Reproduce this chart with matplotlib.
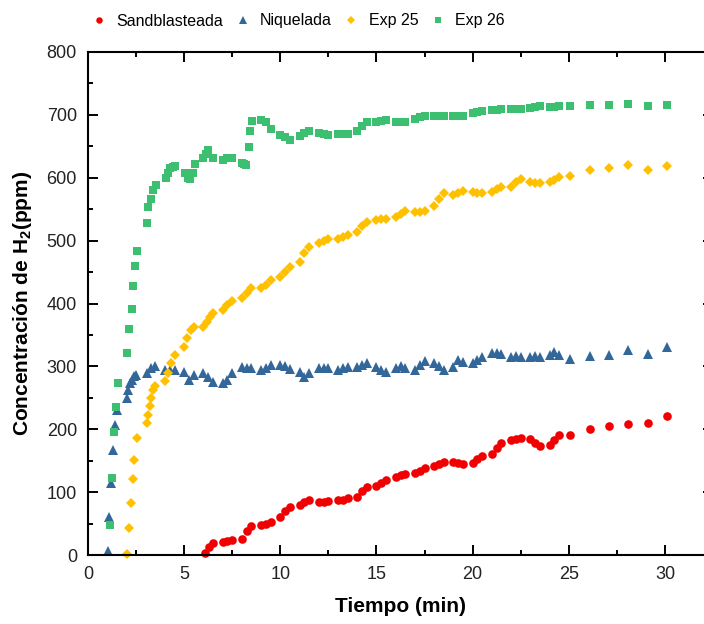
import matplotlib
matplotlib.use("Agg")
import matplotlib.pyplot as plt
from matplotlib.ticker import MultipleLocator
from matplotlib import font_manager

plt.rcParams['font.family'] = ['Liberation Sans', 'DejaVu Sans']
plt.rcParams['mathtext.fontset'] = 'custom'
plt.rcParams['mathtext.rm'] = 'Liberation Sans'
plt.rcParams['mathtext.bf'] = 'Liberation Sans:bold'

# ---------------- data ----------------
sand_x = [6.1, 6.3, 6.5, 7.0, 7.25, 7.5, 8.0, 8.25, 8.5, 9.0, 9.25, 9.5,
          10.0, 10.25, 10.5, 11.0, 11.25, 11.5, 12.0, 12.25, 12.5, 13.0, 13.25, 13.5,
          14.0, 14.25, 14.5, 15.0, 15.25, 15.5, 16.0, 16.25, 16.5, 17.0, 17.25, 17.5,
          18.0, 18.25, 18.5, 19.0, 19.25, 19.5, 20.0, 20.25, 20.5, 21.0, 21.25, 21.5,
          22.0, 22.25, 22.5, 23.0, 23.25, 23.5, 24.0, 24.25, 24.5, 25.05,
          26.1, 27.1, 28.1, 29.1, 30.1]
sand_y = [3, 12, 19, 20, 23, 24, 25, 38, 46, 47, 50, 53,
          60, 70, 76, 79, 84, 88, 85, 85, 86, 87, 88, 90,
          93, 102, 108, 110, 115, 120, 124, 127, 129, 130, 134, 138,
          142, 145, 148, 148, 146, 145, 146, 152, 158, 160, 170, 178,
          183, 185, 186, 184, 178, 173, 175, 183, 191, 191,
          201, 205, 208, 210, 221]

niq_x = [1.02, 1.1, 1.2, 1.32, 1.41, 1.49, 2.01, 2.1, 2.19, 2.3, 2.4, 2.5,
         3.05, 3.25, 3.5, 4.0, 4.25, 4.5, 5.0, 5.25, 5.5, 6.0, 6.25, 6.5,
         7.0, 7.25, 7.5, 8.0, 8.25, 8.5, 9.0, 9.25, 9.5, 10.0, 10.25, 10.5,
         11.0, 11.25, 11.5, 12.0, 12.25, 12.5, 13.0, 13.25, 13.5, 14.0, 14.25, 14.5,
         15.0, 15.25, 15.5, 16.0, 16.25, 16.5, 17.0, 17.25, 17.5, 18.0, 18.25, 18.5,
         19.0, 19.25, 19.5, 20.0, 20.25, 20.5, 21.0, 21.25, 21.5, 22.0, 22.25, 22.5,
         23.0, 23.25, 23.5, 24.0, 24.25, 24.5, 25.05,
         26.1, 27.1, 28.1, 29.1, 30.1]
niq_y = [7, 61, 114, 167, 207, 231, 250, 262, 273, 278, 284, 287,
         289, 297, 300, 294, 294, 294, 291, 278, 286, 289, 283, 275,
         273, 278, 290, 299, 298, 297, 294, 298, 302, 302, 300, 296,
         291, 283, 290, 297, 297, 297, 294, 297, 299, 299, 302, 305,
         299, 295, 291, 297, 300, 297, 294, 302, 308, 305, 300, 294,
         299, 310, 307, 305, 310, 315, 321, 322, 320, 315, 316, 315,
         315, 316, 315, 318, 323, 318, 311,
         317, 318, 326, 320, 331]

e25_x = [2.01, 2.14, 2.24, 2.33, 2.41, 2.53, 3.05, 3.12, 3.2, 3.3, 3.4, 3.5,
         4.0, 4.17, 4.33, 4.5, 5.0, 5.17, 5.33, 5.5, 6.0, 6.17, 6.33, 6.5,
         7.0, 7.25, 7.5, 8.0, 8.25, 8.5, 9.0, 9.25, 9.5, 10.0, 10.25, 10.5,
         11.0, 11.25, 11.5, 12.0, 12.25, 12.5, 13.0, 13.25, 13.5, 14.0, 14.25, 14.5,
         15.0, 15.25, 15.5, 16.0, 16.25, 16.5, 17.0, 17.25, 17.5, 18.0, 18.25, 18.5,
         19.0, 19.25, 19.5, 20.0, 20.25, 20.5, 21.0, 21.25, 21.5, 22.0, 22.25, 22.5,
         23.0, 23.25, 23.5, 24.0, 24.25, 24.5, 25.05,
         26.1, 27.1, 28.1, 29.1, 30.1]
e25_y = [2, 43, 83, 121, 151, 186, 210, 222, 237, 250, 262, 268,
         276, 290, 305, 318, 331, 345, 358, 363, 363, 370, 378, 385,
         389, 397, 404, 408, 416, 424, 424, 430, 437, 442, 450, 458,
         466, 480, 490, 497, 500, 502, 502, 505, 509, 514, 524, 530,
         533, 535, 535, 538, 543, 547, 546, 545, 547, 555, 566, 575,
         573, 576, 579, 578, 576, 575, 578, 582, 586, 586, 593, 598,
         594, 591, 591, 594, 597, 601, 603,
         613, 616, 621, 613, 619]

e26_x = [1.15, 1.23, 1.35, 1.44, 1.58, 2.05, 2.15, 2.27, 2.36, 2.45, 2.55,
         3.05, 3.14, 3.27, 3.4, 3.54, 4.06, 4.17, 4.27, 4.4, 4.53,
         5.05, 5.2, 5.3, 5.47, 5.57, 6.0, 6.13, 6.25, 6.5,
         7.0, 7.25, 7.5, 8.0, 8.1, 8.2, 8.35, 8.42, 8.55,
         9.0, 9.25, 9.5, 10.0, 10.25, 10.5, 11.0, 11.25, 11.5, 12.0, 12.25, 12.5,
         13.0, 13.25, 13.5, 14.0, 14.25, 14.5, 15.0, 15.25, 15.5, 16.0, 16.25, 16.5,
         17.0, 17.25, 17.5, 18.0, 18.25, 18.5, 19.0, 19.25, 19.5, 20.0, 20.25, 20.5,
         21.0, 21.25, 21.5, 22.0, 22.25, 22.5, 23.0, 23.25, 23.5, 24.0, 24.25, 24.5, 25.07,
         26.1, 27.1, 28.1, 29.1, 30.1]
e26_y = [48, 122, 196, 235, 273, 322, 359, 391, 428, 460, 483,
         528, 553, 566, 580, 588, 599, 607, 615, 617, 618,
         607, 600, 598, 607, 622, 631, 638, 644, 631,
         628, 631, 631, 623, 622, 620, 649, 675, 690,
         692, 688, 677, 668, 665, 660, 667, 671, 675, 671, 670, 668,
         669, 669, 669, 675, 682, 689, 689, 691, 692, 689, 689, 689,
         694, 696, 698, 698, 698, 698, 698, 698, 699, 703, 705, 706,
         707, 708, 709, 710, 710, 710, 711, 712, 714, 712, 713, 714, 714,
         716, 716, 718, 714, 716]

labels = ['Sandblasteada', 'Niquelada', 'Exp 25', 'Exp 26']
x_ticks = [0, 5, 10, 15, 20, 25, 30]
y_ticks = [0, 100, 200, 300, 400, 500, 600, 700, 800]

# ---------------- plot ----------------
W, H = 704, 624
fig = plt.figure(figsize=(W / 100, H / 100), dpi=100)
ax = fig.add_axes([88 / W, 1 - 555 / H, (713 - 88) / W, (555 - 52) / H])

c_red = '#F00000'
c_blue = '#336699'
c_yel = '#FFC000'
c_grn = '#3CBF71'

ax.plot(sand_x, sand_y, 'o', color=c_red, ms=6.2, mew=0, label=labels[0], clip_on=False)
ax.plot(niq_x, niq_y, '^', color=c_blue, ms=7.2, mew=0, label=labels[1], clip_on=False)
ax.plot(e25_x, e25_y, 'D', color=c_yel, ms=5.6, mew=0, label=labels[2], clip_on=False)
ax.plot(e26_x, e26_y, 's', color=c_grn, ms=5.2, mew=0, label=labels[3], clip_on=False)

ax.set_xlim(0, 32.5)
ax.set_ylim(0, 800)
ax.set_xticks(x_ticks)
ax.set_yticks(y_ticks)
ax.xaxis.set_minor_locator(MultipleLocator(2.5))
ax.yaxis.set_minor_locator(MultipleLocator(50))

for s in ax.spines.values():
    s.set_linewidth(1.5)
ax.tick_params(which='both', direction='in', top=True, right=True,
               labelsize=13, colors='black', width=1.4)
ax.tick_params(which='major', length=7.5, pad=8)
ax.tick_params(which='minor', length=3.5)
for lab in ax.get_xticklabels() + ax.get_yticklabels():
    lab.set_color('#222222')

ax.set_xlabel('Tiempo (min)', fontsize=15, fontweight='bold', labelpad=10)
ax.set_ylabel(r'Concentración de H$_{\mathbf{2}}$(ppm)', fontsize=15,
              fontweight='bold', labelpad=9)

# legend font: narrow variant if available
names = {f.name for f in font_manager.fontManager.ttflist}
if 'Liberation Sans Narrow' in names:
    leg_font = font_manager.FontProperties(family='Liberation Sans Narrow', size=13)
else:
    leg_font = font_manager.FontProperties(family='Liberation Sans', size=11.5)

leg = fig.legend(loc='center', bbox_to_anchor=(298 / W, 1 - 21 / H), ncol=4,
                 frameon=False, prop=leg_font, handlelength=1.0, handletextpad=0.6,
                 columnspacing=0.7, markerscale=0.75, numpoints=1)

fig.savefig('out.png', dpi=100)
